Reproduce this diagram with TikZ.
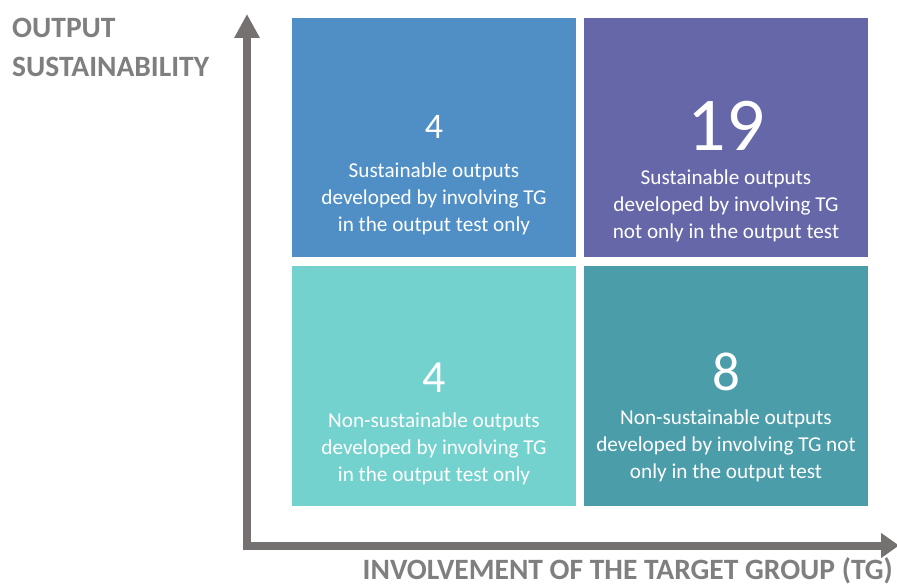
\documentclass[tikz,border=0pt]{standalone}
\usepackage{fontspec}
\setmainfont{Carlito}
\usetikzlibrary{arrows.meta}
\definecolor{cTL}{HTML}{4F8FC6}
\definecolor{cTR}{HTML}{6567A8}
\definecolor{cBL}{HTML}{74D2CE}
\definecolor{cBR}{HTML}{4B9DAA}
\definecolor{axisgray}{HTML}{767171}
\definecolor{labelgray}{HTML}{7F7F7F}
\tikzset{
  quad/.style={draw=none, inner sep=0pt, minimum width=284pt, minimum height=239.5pt},
  num/.style={text=white, inner sep=0pt, anchor=base},
  desc/.style={text=white, inner sep=0pt, anchor=base, align=center, font=\fontsize{21.2}{27}\selectfont},
  axislabel/.style={text=labelgray, inner sep=0pt, font=\bfseries},
  axisline/.style={draw=axisgray, line width=8pt, line join=miter,
    {Triangle[width=24pt,length=24pt]}-{Triangle[width=24pt,length=18pt]}}
}
\begin{document}
\begin{tikzpicture}[x=1pt,y=-1pt]
\useasboundingbox (0,0) rectangle (897,586);
\fill[white] (0,0) rectangle (897,586);
% quadrants
\node[quad, fill=cTL] (tl) at (434,137.5) {};
\node[quad, fill=cTR] (tr) at (726,137.5) {};
\node[quad, fill=cBL] (bl) at (434,386) {};
\node[quad, fill=cBR] (br) at (726,386) {};
% texts (base anchor = last line)
\node[num, font=\fontsize{36}{36}\selectfont] (tlnum) at (434,138) {4};
\node[desc] (tldesc) at (434,231) {Sustainable outputs\\developed by involving TG\\in the output test only};
\node[num, font=\fontsize{76}{76}\selectfont] (trnum) at (726,150) {19};
\node[desc] (trdesc) at (726,238) {Sustainable outputs\\developed by involving TG\\not only in the output test};
\node[num, font=\fontsize{46}{46}\selectfont] (blnum) at (434,392) {4};
\node[desc] (bldesc) at (434,481) {Non-sustainable outputs\\developed by involving TG\\in the output test only};
\node[num, font=\fontsize{55}{55}\selectfont] (brnum) at (726,390) {8};
\node[desc] (brdesc) at (726,478) {Non-sustainable outputs\\developed by involving TG not\\only in the output test};
% axes
\coordinate (ytip) at (247,14);
\coordinate (corner) at (247,545.5);
\coordinate (xtip) at (899,545.5);
\draw[axisline] (ytip) -- (corner) -- (xtip);
% axis labels
\node[axislabel, font=\bfseries\fontsize{29.5}{39}\selectfont, anchor=base west, align=left] (ylabel) at (12,77) {OUTPUT\\SUSTAINABILITY};
\node[axislabel, font=\bfseries\fontsize{29.5}{29.5}\selectfont, anchor=base east] (xlabel) at (893,579) {INVOLVEMENT OF THE TARGET GROUP (TG)};
\end{tikzpicture}
\end{document}
